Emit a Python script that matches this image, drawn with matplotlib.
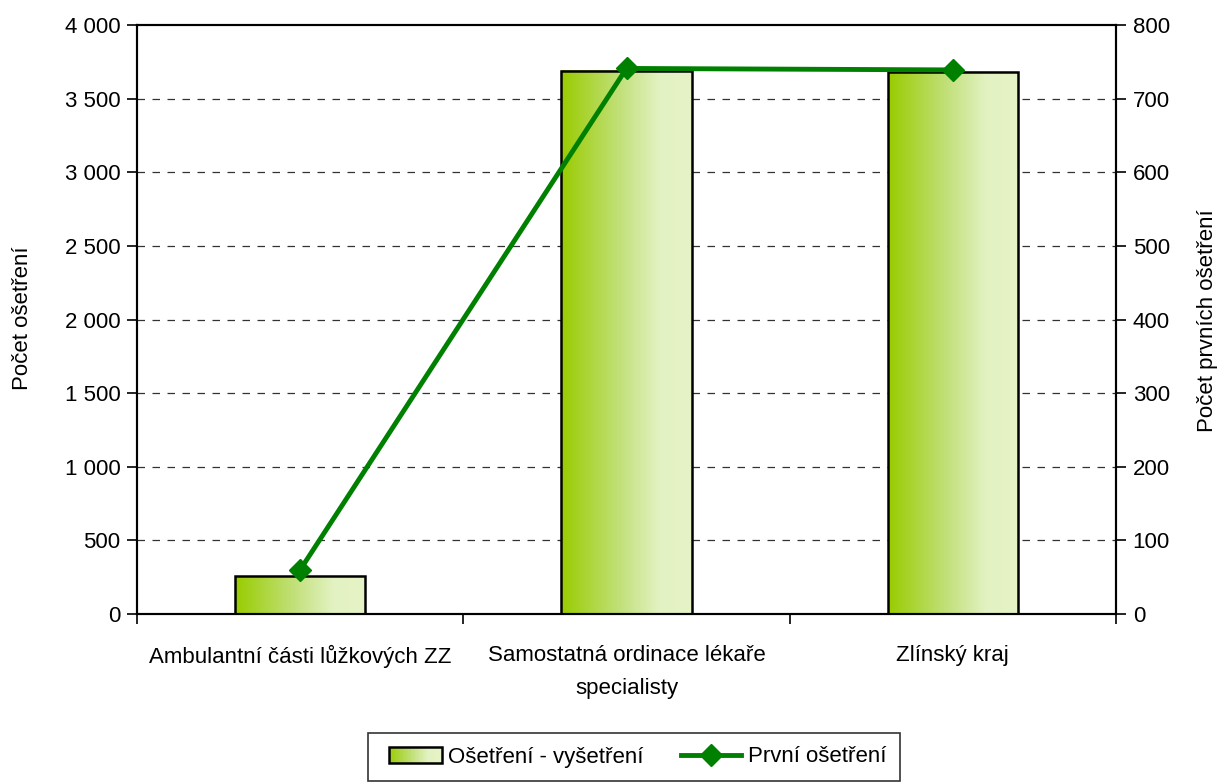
import matplotlib
matplotlib.use("Agg")
import matplotlib.pyplot as plt
import numpy as np
from matplotlib.colors import LinearSegmentedColormap
from matplotlib.patches import Rectangle
from matplotlib.lines import Line2D
from matplotlib.legend_handler import HandlerBase
from matplotlib.ticker import FuncFormatter, MultipleLocator

plt.rcParams['font.family'] = ['Liberation Sans', 'DejaVu Sans']

categories = ["Ambulantní části lůžkových ZZ", "Samostatná ordinace lékaře\nspecialisty", "Zlínský kraj"]
osetreni = [258, 3688, 3681]
prvni = [60, 741, 739]
series_names = ["Ošetření - vyšetření", "První ošetření"]
left_label = "Počet ošetření"
right_label = "Počet prvních ošetření"

FS = 16
GREEN = '#008000'

fig = plt.figure(figsize=(12.23, 7.84), dpi=100)
ax = fig.add_axes([137/1223, 1-614/784, (1116-137)/1223, (614-25)/784])
ax2 = ax.twinx()

cmap = LinearSegmentedColormap.from_list('g', [(0, '#99CC00'), (0.45, '#C2E07A'), (0.75, '#E3F2C2'), (1, '#E6F3C6')])

x = np.arange(len(categories))
bars = ax.bar(x, osetreni, width=0.4, facecolor='none', edgecolor='black', linewidth=1.8, zorder=3)
grad = np.linspace(0, 1, 256).reshape(1, -1)
for b in bars:
    ax.imshow(grad, cmap=cmap, aspect='auto', zorder=2,
              extent=[b.get_x(), b.get_x() + b.get_width(), 0, b.get_height()])

ax.set_xlim(-0.5, len(categories) - 0.5)
ax.set_ylim(0, 4000)
ax.set_yticks(np.arange(0, 4001, 500))
fmt = FuncFormatter(lambda v, p: f"{int(v):,}".replace(",", " "))
ax.yaxis.set_major_formatter(fmt)
ax.grid(axis='y', linestyle=(0, (6, 6)), color='#333333', linewidth=0.9, zorder=0)
ax.set_axisbelow(True)
gl = ax.yaxis.get_gridlines()
gl[0].set_visible(False)
gl[-1].set_visible(False)

ax2.plot(x, prvni, color=GREEN, linewidth=3.5, marker='D', markersize=11, zorder=5)
ax2.set_ylim(0, 800)
ax2.yaxis.set_major_locator(MultipleLocator(100))

ax.set_xticks(x)
ax.set_xticklabels(categories, fontsize=FS, linespacing=1.75)
ax.tick_params(axis='x', length=0, pad=22)
ax.set_xticks(np.arange(len(categories) + 1) - 0.5, minor=True)
ax.tick_params(axis='x', which='minor', length=7, width=1.2, direction='out')
ax.tick_params(axis='y', labelsize=FS, length=7, width=1.2, direction='out', pad=5)
ax2.tick_params(axis='y', labelsize=FS, length=7, width=1.2, direction='out', pad=5)

for a in (ax, ax2):
    for s in ('left', 'right', 'bottom', 'top'):
        a.spines[s].set_linewidth(1.5)
ax.set_zorder(ax2.get_zorder() - 1)
ax2.patch.set_visible(False)

fig.text(22/1223, 1-318/784, left_label, rotation=90, va='center', ha='center', fontsize=FS)
fig.text(1207/1223, 1-321/784, right_label, rotation=90, va='center', ha='center', fontsize=FS)


class GradHandler(HandlerBase):
    def create_artists(self, legend, orig_handle, xdescent, ydescent, width, height, fontsize, trans):
        arts = []
        inset = 5
        x0 = -xdescent + inset
        w_all = width - inset
        n = 40
        w = w_all / n
        for i in range(n):
            r = Rectangle((x0 + i * w, -ydescent), w * 1.05, height,
                          facecolor=cmap((i + 0.5) / n), edgecolor='none', transform=trans)
            arts.append(r)
        arts.append(Rectangle((x0, -ydescent), w_all, height, facecolor='none',
                              edgecolor='black', linewidth=1.8, transform=trans))
        return arts


grad_handle = Rectangle((0, 0), 1, 1)
line_handle = Line2D([], [], color=GREEN, linewidth=3.5, marker='D', markersize=11)
leg = fig.legend([grad_handle, line_handle], series_names, loc='center',
                 bbox_to_anchor=(634/1223, 1-757/784),
                 handler_map={Rectangle: GradHandler()},
                 ncol=2, fontsize=FS, frameon=True, fancybox=False, edgecolor='black',
                 handlelength=2.7, handleheight=0.75, columnspacing=1.7, handletextpad=0.3,
                 borderpad=0.6)
leg.get_frame().set_linewidth(1.2)

fig.savefig("out.png", dpi=100)
